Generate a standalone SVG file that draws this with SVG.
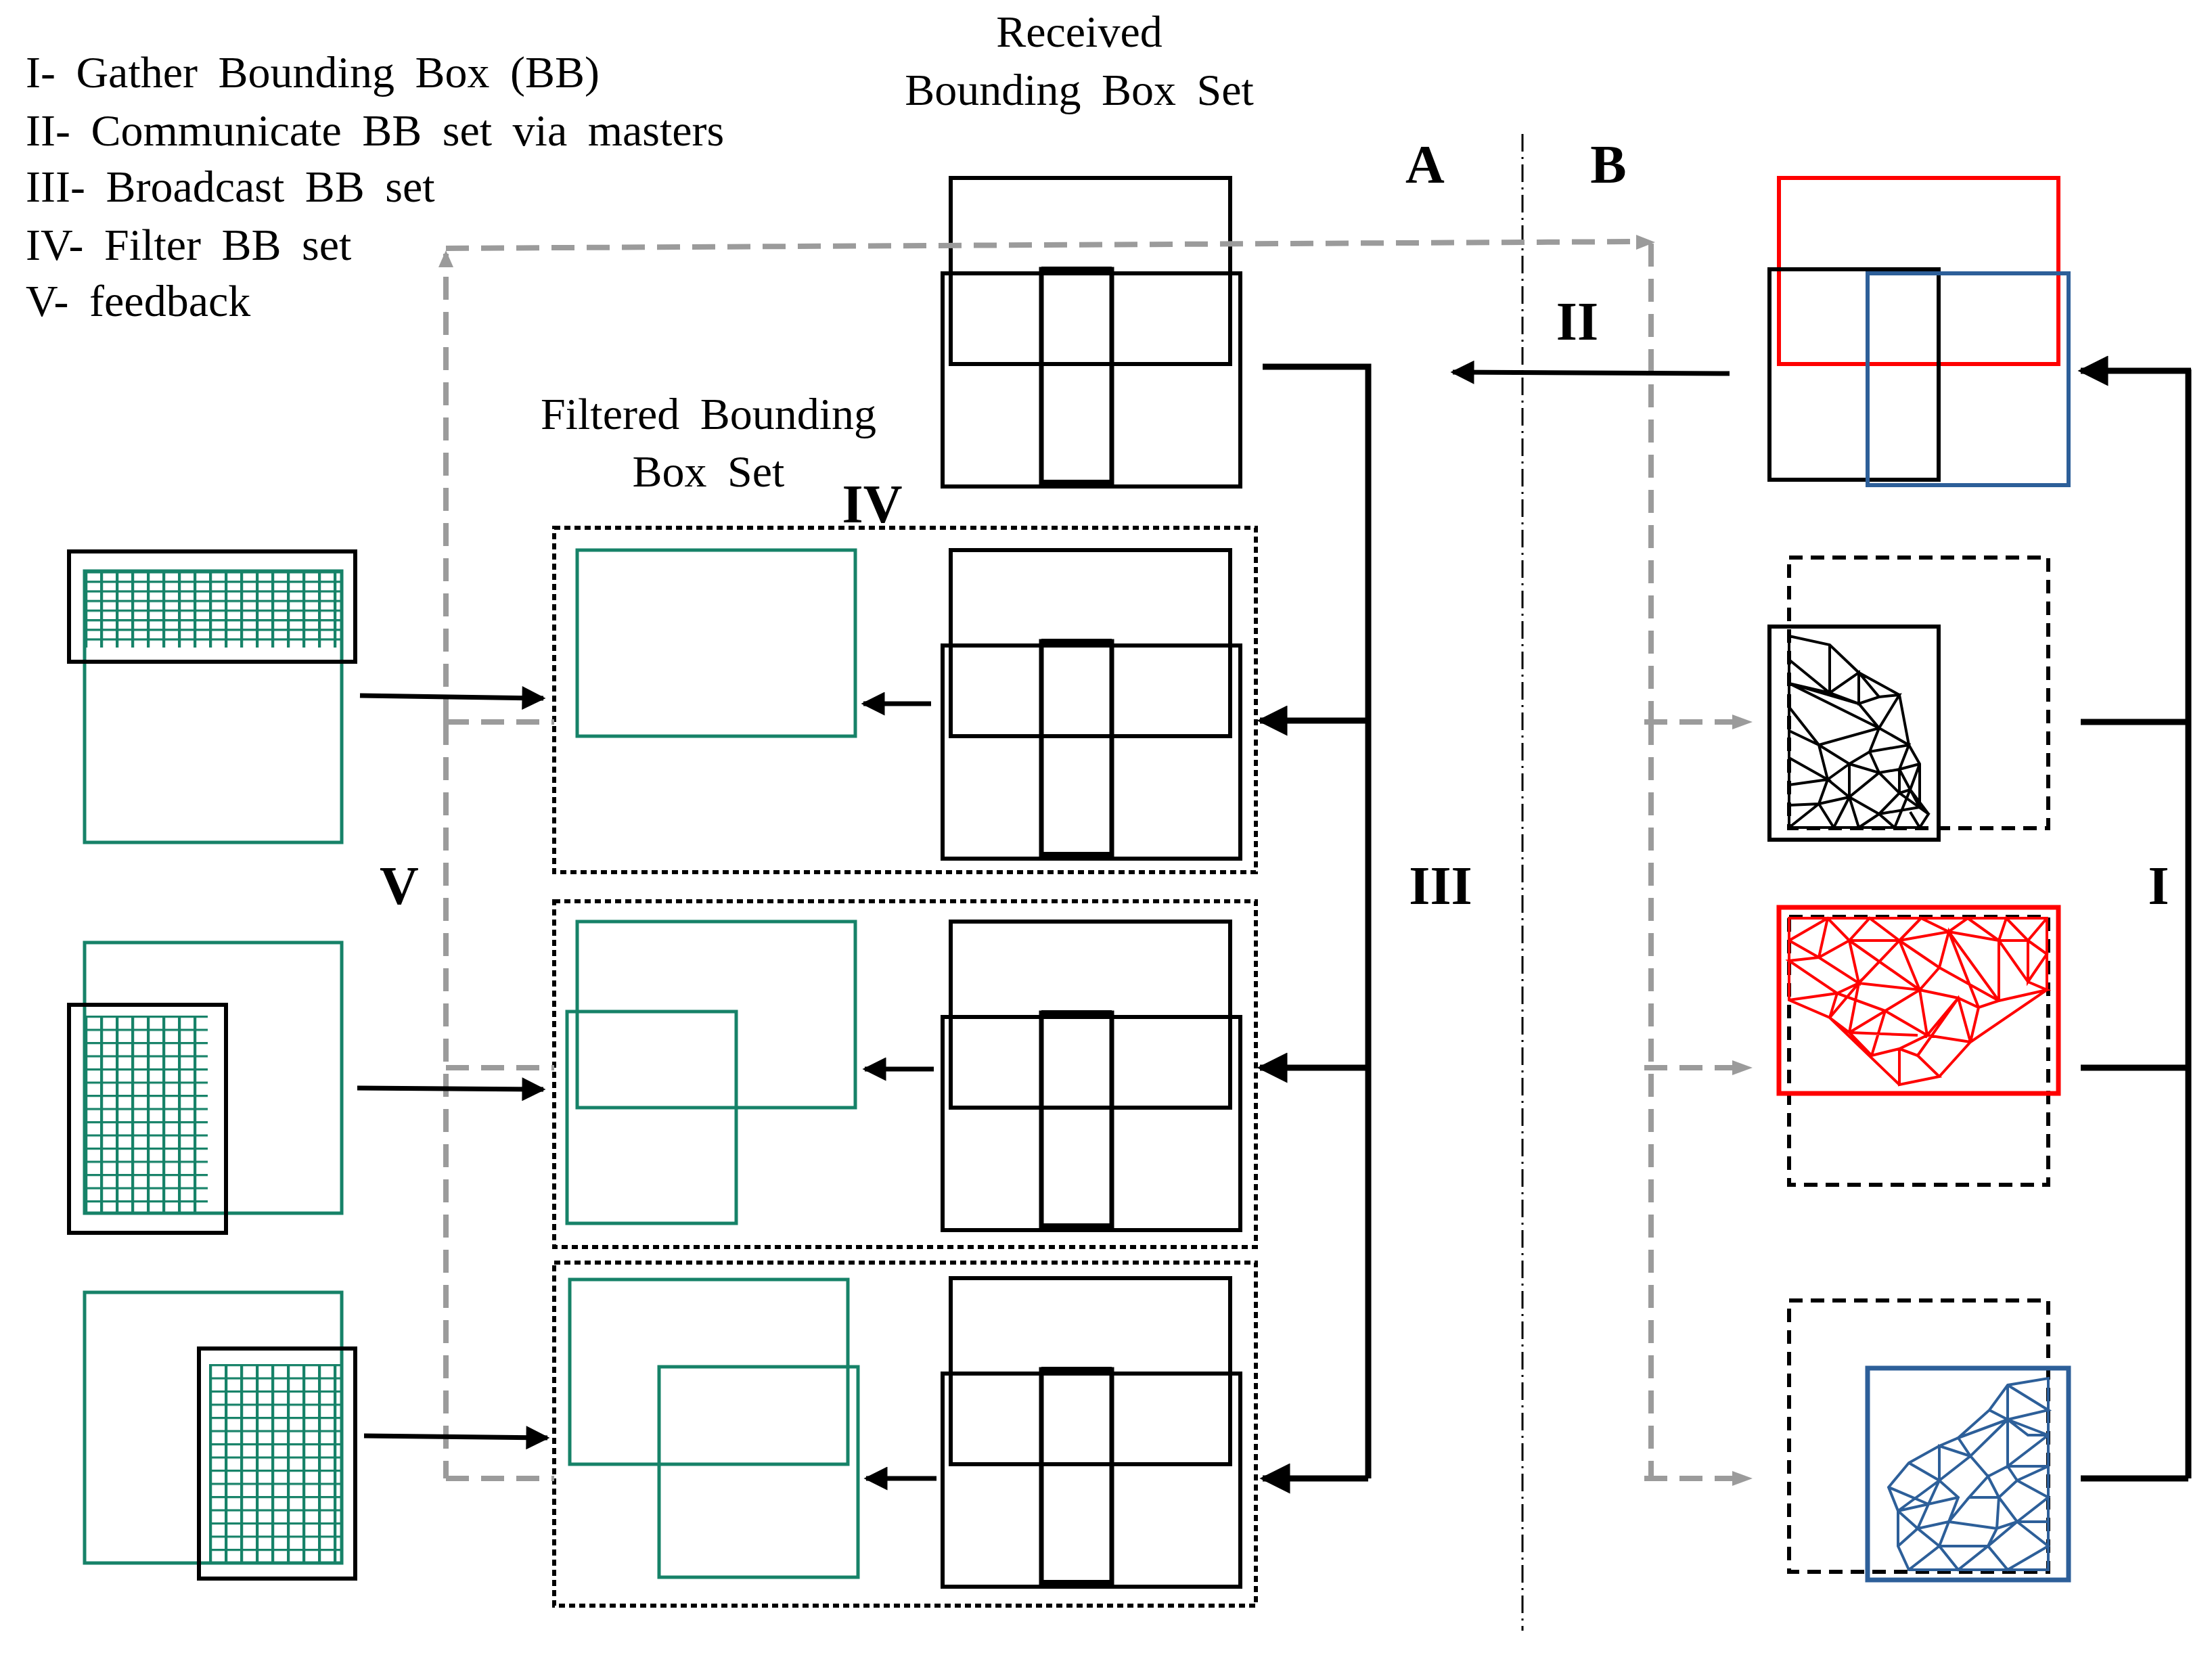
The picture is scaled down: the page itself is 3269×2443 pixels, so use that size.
<svg xmlns="http://www.w3.org/2000/svg" width="3269" height="2443" viewBox="0 0 3269 2443">
<style>
.t{font-family:"Liberation Serif",serif;font-size:66px;fill:#000;word-spacing:14px}
.b{font-family:"Liberation Serif",serif;font-size:80px;font-weight:bold;fill:#000}
.k{fill:none;stroke:#000;stroke-width:6}
.kk{fill:none;stroke:#000;stroke-width:7}
.dot{fill:none;stroke:#000;stroke-width:6;stroke-dasharray:9 6}
.dsh{fill:none;stroke:#000;stroke-width:6;stroke-dasharray:20 12}
.g{fill:none;stroke:#168268;stroke-width:5}
.gray{fill:none;stroke:#9b9b9b;stroke-width:8;stroke-dasharray:34 18}
.arr{fill:none;stroke:#000;stroke-width:7}
.bus{fill:none;stroke:#000;stroke-width:9}
.mk{fill:none;stroke:#000;stroke-width:4}
.mr{fill:none;stroke:#f00;stroke-width:4}
.mb{fill:none;stroke:#2d5f99;stroke-width:4}
</style>
<defs>
<marker id="ahb" viewBox="0 0 10 10" refX="9" refY="5" markerWidth="7" markerHeight="5" orient="auto"><path d="M0,0 L10,5 L0,10 Z" fill="#000"/></marker>
<pattern id="p1" patternUnits="userSpaceOnUse" x="125" y="844" width="23" height="14.2"><path d="M2,0 V14.2 M0,1 H23" stroke="#168268" stroke-width="4.5" fill="none"/></pattern>
<pattern id="p2" patternUnits="userSpaceOnUse" x="125" y="1501" width="23" height="19.5"><path d="M2,0 V19.5 M0,1 H23" stroke="#168268" stroke-width="4.5" fill="none"/></pattern>
<pattern id="p3" patternUnits="userSpaceOnUse" x="309" y="2016" width="23" height="19.5"><path d="M2,0 V19.5 M0,1 H23" stroke="#168268" stroke-width="4.5" fill="none"/></pattern>
<g id="recv">
<rect x="1405" y="263" width="413" height="275" class="k"/>
<rect x="1393" y="404" width="440" height="315" class="k"/>
<rect x="1539" y="398" width="104" height="317" class="kk"/>
<path d="M1539,399 H1643 M1539,714 H1643" stroke="#000" stroke-width="10"/>
</g>
</defs>

<g id="legend">
<text class="t" x="38" y="129">I- Gather Bounding Box (BB)</text>
<text class="t" x="38" y="215">II- Communicate BB set via masters</text>
<text class="t" x="38" y="298">III- Broadcast BB set</text>
<text class="t" x="38" y="384">IV- Filter BB set</text>
<text class="t" x="38" y="467">V- feedback</text>
</g>
<g id="titles">
<text class="t" x="1595" y="69" text-anchor="middle">Received</text>
<text class="t" x="1595" y="155" text-anchor="middle">Bounding Box Set</text>
<text class="t" x="1047" y="634" text-anchor="middle">Filtered Bounding</text>
<text class="t" x="1047" y="719" text-anchor="middle">Box Set</text>
<text class="b" x="1289" y="772" text-anchor="middle">IV</text>
<text class="b" x="2106" y="270" text-anchor="middle">A</text>
<text class="b" x="2377" y="270" text-anchor="middle">B</text>
<text class="b" x="2331" y="502" text-anchor="middle">II</text>
<text class="b" x="2129" y="1336" text-anchor="middle">III</text>
<text class="b" x="3190" y="1336" text-anchor="middle">I</text>
<text class="b" x="590" y="1336" text-anchor="middle">V</text>
</g>

<g id="divider"><line x1="2250" y1="198" x2="2250" y2="2410" stroke="#000" stroke-width="3" stroke-dasharray="26 8 3 8"/></g>

<g id="received-top"><use href="#recv"/></g>
<g id="filter1">
<rect x="819" y="780" width="1037" height="509" class="dot"/>
<use href="#recv" y="550"/>
<rect x="853" y="813" width="411" height="275" class="g"/>
</g>
<g id="filter2">
<rect x="819" y="1332" width="1037" height="511" class="dot"/>
<use href="#recv" y="1099"/>
<rect x="853" y="1362" width="411" height="275" class="g"/>
<rect x="838" y="1495" width="250" height="313" class="g"/>
</g>
<g id="filter3">
<rect x="819" y="1866" width="1037" height="507" class="dot"/>
<use href="#recv" y="1626"/>
<rect x="842" y="1891" width="411" height="273" class="g"/>
<rect x="974" y="2020" width="294" height="311" class="g"/>
</g>

<g id="left1">
<rect x="125" y="844" width="380" height="113" fill="url(#p1)"/>
<rect x="125" y="844" width="380" height="401" class="g"/>
<rect x="102" y="815" width="423" height="163" class="k"/>
</g>
<g id="left2">
<rect x="125" y="1393" width="380" height="400" class="g"/>
<rect x="125" y="1501" width="182" height="292" fill="url(#p2)"/>
<rect x="102" y="1485" width="232" height="337" class="k"/>
</g>
<g id="left3">
<rect x="125" y="1910" width="380" height="400" class="g"/>
<rect x="309" y="2016" width="196" height="294" fill="url(#p3)"/>
<rect x="294" y="1993" width="231" height="340" class="k"/>
</g>

<g id="right1">
<rect x="2629" y="263" width="413" height="275" fill="none" stroke="#f00" stroke-width="6"/>
<rect x="2615" y="398" width="250" height="311" class="k"/>
<rect x="2760" y="404" width="297" height="313" fill="none" stroke="#2d5f99" stroke-width="6"/>
</g>
<g id="right2">
<rect x="2644" y="824" width="383" height="400" class="dsh"/>
<rect x="2615" y="926" width="250" height="315" class="k"/>
<path class="mk" d="M2644,940 L2704,953 L2747,994 L2807,1027 L2821,1101 L2837,1129 L2837,1193 L2850,1203 L2837,1223 L2644,1223 Z
M2644,975 L2704,1024 L2704,953 M2704,1024 L2747,994 L2747,1040 L2777,1030 L2747,994 M2777,1030 L2807,1027 L2777,1076 L2747,1040 L2704,1024 L2644,1010 L2747,1040
M2644,1010 L2777,1076 L2821,1101 M2644,1045 L2688,1101 L2777,1076 L2763,1111 L2821,1101 L2807,1137 L2837,1129 M2688,1101 L2644,1080 M2688,1101 L2733,1129 L2763,1111 L2777,1142 L2807,1137 L2823,1167 L2837,1129
M2733,1129 L2701,1152 L2688,1101 M2644,1120 L2701,1152 L2644,1160 M2701,1152 L2733,1178 L2733,1129 L2777,1142 L2733,1178 L2777,1203 L2807,1172 L2823,1167 L2850,1203 L2807,1172 L2777,1142 L2807,1137 L2807,1172
M2701,1152 L2688,1188 L2644,1190 M2688,1188 L2733,1178 L2688,1188 L2644,1223 M2688,1188 L2710,1223 L2733,1178 L2747,1223 L2777,1203 L2800,1223 L2823,1167 L2837,1193 L2777,1203 M2823,1200 L2837,1223"/>
</g>
<g id="right3">
<rect x="2644" y="1355" width="383" height="396" class="dsh"/>
<rect x="2629" y="1341" width="413" height="275" fill="none" stroke="#f00" stroke-width="7"/>
<path class="mr" d="M2644,1357 L3025,1357 L3025,1463 L2912,1540 L2866,1591 L2807,1603 L2704,1504 L2644,1478 Z
M2644,1390 L2701,1357 L2733,1390 L2763,1357 L2807,1390 L2839,1357 L2880,1377 L2908,1357 L2954,1390 L2965,1357 L2997,1390 L3025,1357 M2997,1390 L3025,1410 L2997,1451 L2997,1390 L2954,1390 L2997,1451 L3025,1463 L2954,1479 L2954,1390
M2644,1390 L2688,1415 L2701,1357 M2688,1415 L2733,1390 L2807,1390 L2880,1377 L2954,1390 M2733,1390 L2747,1453 L2688,1415 L2644,1420 L2715,1468 L2747,1453 L2837,1463 L2807,1390 L2747,1453
M2644,1478 L2715,1468 L2704,1504 L2747,1453 L2733,1526 L2704,1504 M2733,1390 L2837,1463 L2866,1430 L2807,1390 M2866,1430 L2880,1377 L2924,1489 L2954,1479 L2880,1377 M2866,1430 L2954,1479 M2837,1463 L2894,1475 L2924,1489 L2912,1540 L2894,1475 L2848,1530 L2837,1463 L2786,1494 L2715,1468
M2733,1526 L2786,1494 L2848,1530 L2807,1550 L2766,1560 L2733,1526 L2834,1530 M2786,1494 L2766,1560 M2807,1550 L2807,1603 L2866,1591 L2834,1560 L2807,1550 M2834,1560 L2894,1475 M2848,1530 L2912,1540 M2954,1479 L3025,1463"/>
</g>
<g id="right4">
<rect x="2644" y="1922" width="383" height="401" class="dsh"/>
<rect x="2760" y="2022" width="297" height="313" fill="none" stroke="#2d5f99" stroke-width="7"/>
<path class="mb" d="M2967,2047 L3027,2037 L3027,2320 L2821,2320 L2805,2285 L2805,2233 L2791,2198 L2821,2162 L2866,2137 L2894,2125 L2940,2084 Z
M2967,2047 L2967,2098 L3027,2084 L2967,2047 M2967,2098 L3027,2121 L2997,2121 L2967,2098 L2940,2084 M2967,2098 L2894,2125 L2912,2152 L2967,2098 L2967,2167 L3027,2121 M2967,2167 L3027,2167 L2981,2188 L2967,2167 L2938,2182 L2912,2152 L2866,2137 L2866,2188 L2912,2152
M2981,2188 L3027,2213 L2981,2249 L2954,2213 L2981,2188 M2954,2213 L2938,2182 L2910,2213 L2954,2213 L2951,2259 L2981,2249 L3027,2249 M2981,2249 L3027,2285 L2967,2320 L2938,2285 L2981,2249 M2951,2259 L2938,2285 L2894,2320 L2866,2285 L2938,2285
M2910,2213 L2880,2249 L2894,2213 L2866,2188 L2850,2223 L2894,2213 M2880,2249 L2951,2259 M2880,2249 L2866,2285 L2834,2259 L2880,2249 M2850,2223 L2834,2259 L2805,2285 M2850,2223 L2805,2233 L2866,2188 L2821,2162 M2850,2223 L2791,2198 M2834,2259 L2805,2233 M2866,2285 L2821,2320 M2910,2213 L2938,2182"/>
</g>

<g id="connectors">
<path class="gray" d="M659,1067 V375 M659,367 L2430,357 M2440,360 V1067 M659,1067 H819 M659,1578 H819 M659,2185 H819 M659,1067 V2185 M2440,1067 V2185 M2430,1067 H2583 M2430,1578 H2583 M2430,2185 H2583"/>
<path d="M648,395 L659,370 L670,395 Z" fill="#9b9b9b"/>
<path d="M2418,347 L2446,358 L2418,369 Z" fill="#9b9b9b"/>
<path d="M2560,1056 L2590,1067 L2560,1078 Z" fill="#9b9b9b"/>
<path d="M2560,1567 L2590,1578 L2560,1589 Z" fill="#9b9b9b"/>
<path d="M2560,2174 L2590,2185 L2560,2196 Z" fill="#9b9b9b"/>
<line x1="532" y1="1028" x2="803" y2="1032" class="arr" marker-end="url(#ahb)"/>
<line x1="528" y1="1608" x2="803" y2="1610" class="arr" marker-end="url(#ahb)"/>
<line x1="538" y1="2122" x2="809" y2="2125" class="arr" marker-end="url(#ahb)"/>
<line x1="1376" y1="1040" x2="1276" y2="1040" class="arr" marker-end="url(#ahb)"/>
<line x1="1380" y1="1580" x2="1278" y2="1580" class="arr" marker-end="url(#ahb)"/>
<line x1="1384" y1="2185" x2="1280" y2="2185" class="arr" marker-end="url(#ahb)"/>
<path class="bus" d="M1866,542 H2022 V2185"/>
<line x1="2022" y1="1065" x2="1862" y2="1065" class="bus" marker-end="url(#ahb)"/>
<line x1="2022" y1="1578" x2="1862" y2="1578" class="bus" marker-end="url(#ahb)"/>
<line x1="2022" y1="2185" x2="1866" y2="2185" class="bus" marker-end="url(#ahb)"/>
<line x1="2556" y1="552" x2="2147" y2="550" class="arr" marker-end="url(#ahb)"/>
<path class="bus" d="M3234,546 V2185"/>
<line x1="3238" y1="548" x2="3075" y2="548" class="bus" marker-end="url(#ahb)"/>
<path class="bus" d="M3075,1067 H3234 M3075,1578 H3234 M3075,2185 H3234"/>
</g>
</svg>
